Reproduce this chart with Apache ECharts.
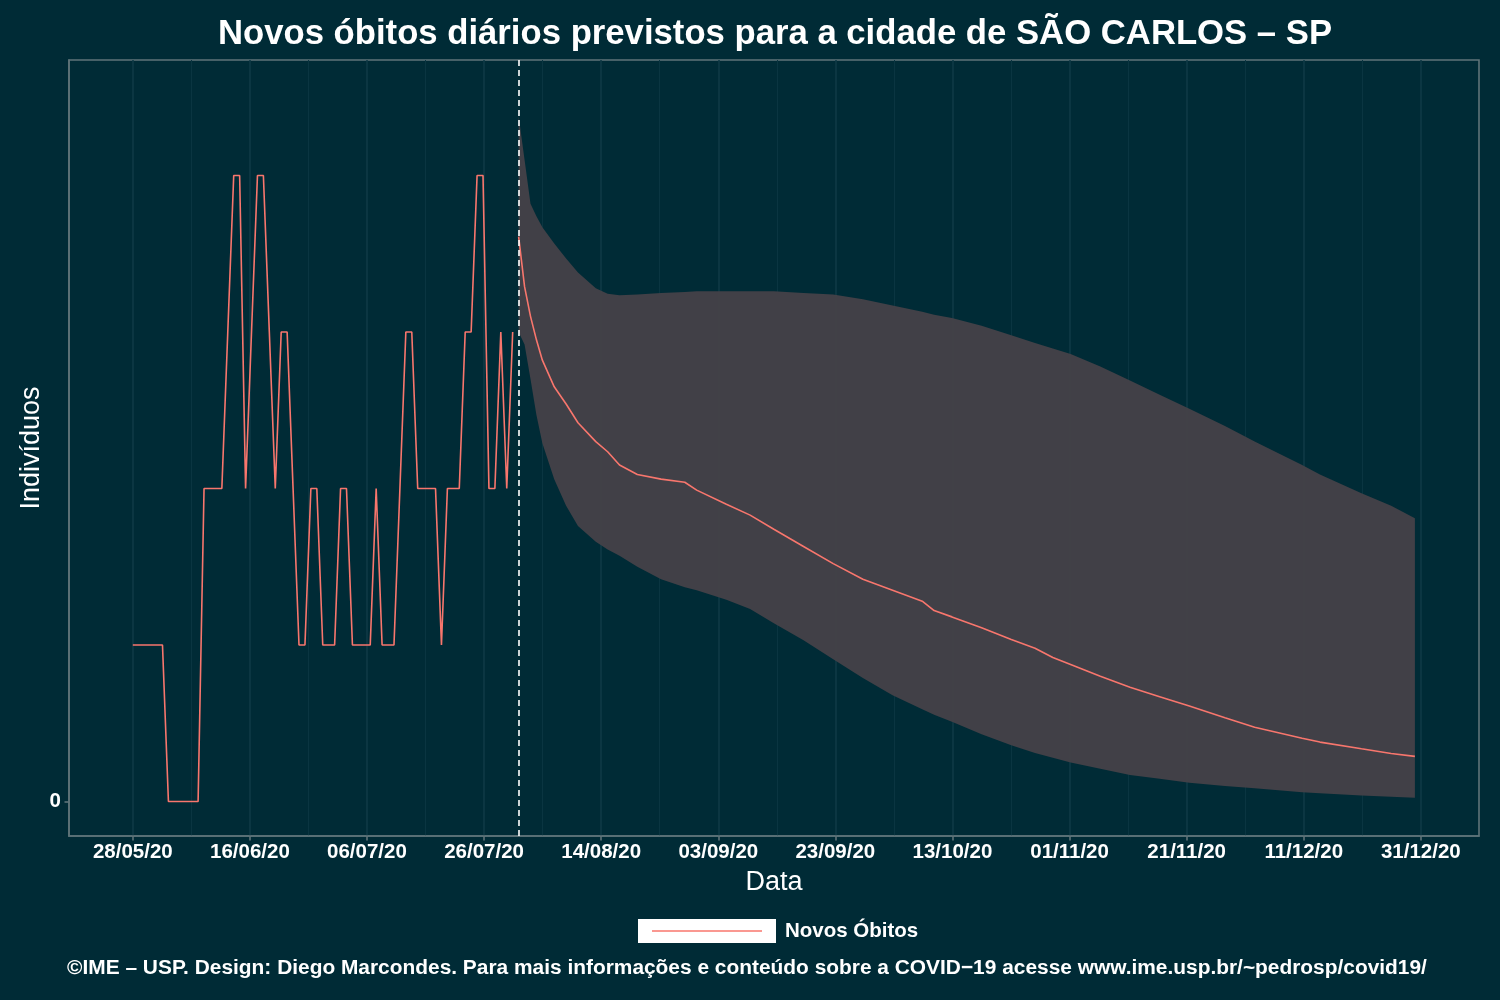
<!DOCTYPE html>
<html>
<head>
<meta charset="utf-8">
<script src="https://cdn.jsdelivr.net/npm/echarts@6/dist/echarts.min.js"></script>
<style>
html,body{margin:0;padding:0;background:#002b36;}
#chart{width:1500px;height:1000px;}
</style>
</head>
<body>
<div id="chart"></div>
<script>
// ---- Data (day index counted from 28/05/20) ----
const observedValues = [
  1,1,1,1,1,1,
  0,0,0,0,0,0,
  2,2,2,2,
  3,
  4,4,
  2,
  3,
  4,4,
  3,
  2,
  3,3,
  2,
  1,1,
  2,2,
  1,1,1,
  2,2,
  1,1,1,1,
  2,
  1,1,1,
  2,
  3,3,
  2,2,2,2,
  1,
  2,2,2,
  3,3,
  4,4,
  2,2,
  3,
  2,
  3
];
const predDays  = [65,66,67,68,69,71,73,75,78,80,82,85,89,93,95,100,104,108,113,118,123,128,133,135,138,143,148,152,155,158,163,168,173,178,184,189,197,200,207,212,216];
const predMean  = [3.61,3.29,3.10,2.95,2.82,2.65,2.54,2.42,2.30,2.235,2.15,2.09,2.06,2.04,1.99,1.90,1.83,1.74,1.63,1.52,1.42,1.35,1.28,1.22,1.18,1.11,1.035,0.98,0.92,0.875,0.80,0.73,0.67,0.61,0.535,0.475,0.405,0.38,0.337,0.307,0.289];
const predLower = [3.00,2.92,2.70,2.47,2.29,2.06,1.89,1.76,1.66,1.61,1.57,1.50,1.42,1.37,1.35,1.29,1.23,1.14,1.03,0.91,0.79,0.68,0.59,0.555,0.51,0.43,0.36,0.31,0.28,0.25,0.21,0.17,0.145,0.12,0.10,0.085,0.06,0.053,0.038,0.03,0.024];
const predUpper = [4.38,4.10,3.82,3.74,3.67,3.565,3.47,3.38,3.28,3.245,3.235,3.24,3.25,3.255,3.26,3.26,3.26,3.26,3.25,3.24,3.21,3.17,3.13,3.11,3.09,3.04,2.98,2.93,2.895,2.86,2.78,2.69,2.60,2.51,2.40,2.30,2.15,2.09,1.97,1.89,1.81];
const forecastStartDay = 65;
const tickDays   = [0,19.73,39.45,59.18,78.91,98.64,118.36,138.09,157.82,177.55,197.27,217];
const tickLabels = ['28/05/20','16/06/20','06/07/20','26/07/20','14/08/20','03/09/20','23/09/20','13/10/20','01/11/20','21/11/20','11/12/20','31/12/20'];
const minorTickDays = [9.86,29.59,49.32,69.05,88.77,108.5,128.23,147.95,167.68,187.41,207.14];
const yTickValues = [0];
const yTickLabels = ['0'];
const legendName = 'Novos Óbitos';

// ---- Styles ----
const BG = '#002b36';
const FRAME = '#5f7479';
const LINE = '#F8766D';
const RIBBON = 'rgba(70,66,72,0.93)';
const FONT = '"Liberation Sans", Arial, Helvetica, sans-serif';
const X_MIN = -10.75, X_MAX = 226.8, Y_MIN = -0.22, Y_MAX = 4.738;

const chart = echarts.init(document.getElementById('chart'), null, {renderer:'canvas'});

const observedData = observedValues.map((v, i) => [i, v]);
const meanData = predDays.map((d, i) => [d, predMean[i]]);
const bandData = predDays.map((d, i) => [d, predLower[i], predUpper[i]]);

function labelFor(list, labels, value) {
  for (let i = 0; i < list.length; i++) {
    if (Math.abs(list[i] - value) < 1e-6) return labels[i];
  }
  return '';
}

const option = {
  backgroundColor: BG,
  animation: false,
  textStyle: { fontFamily: FONT },
  title: [
    {
      text: 'Novos óbitos diários previstos para a cidade de SÃO CARLOS – SP',
      left: 775, top: 17, textAlign: 'center', padding: 0,
      textStyle: { color: '#ffffff', fontSize: 34.7, fontWeight: 'bold', fontFamily: FONT }
    },
    {
      text: '©IME – USP. Design: Diego Marcondes. Para mais informações e conteúdo sobre a COVID−19 acesse www.ime.usp.br/~pedrosp/covid19/',
      left: 747, top: 958, textAlign: 'center', padding: 0,
      textStyle: { color: '#ffffff', fontSize: 20.9, fontWeight: 'bold', fontFamily: FONT }
    }
  ],
  legend: {
    data: [legendName],
    left: 638, top: 919, padding: 0,
    icon: 'rect',
    itemWidth: 138, itemHeight: 24,
    itemStyle: { color: '#ffffff', borderWidth: 0 },
    textStyle: { color: '#ffffff', fontSize: 20.5, fontWeight: 'bold', fontFamily: FONT, padding: [0,0,0,4] },
    selectedMode: false
  },
  graphic: [
    { type: 'line', z: 100, shape: { x1: 652, y1: 931, x2: 762, y2: 931 }, style: { stroke: LINE, lineWidth: 1.6 } }
  ],
  grid: {
    left: 69, top: 60, width: 1410, height: 776,
    show: true, borderColor: FRAME, borderWidth: 1.6, backgroundColor: 'transparent',
    containLabel: false
  },
  xAxis: [
    {
      type: 'value', min: X_MIN, max: X_MAX,
      name: 'Data', nameLocation: 'middle', nameGap: 33, nameMoveOverlap: false,
      nameTextStyle: { color: '#ffffff', fontSize: 27, fontFamily: FONT },
      axisLine: { show: true, onZero: false, lineStyle: { color: FRAME, width: 1.6 } },
      axisTick: { show: true, length: 4.5, customValues: tickDays, lineStyle: { color: FRAME, width: 1.6 } },
      axisLabel: {
        show: true, customValues: tickDays, margin: 6,
        color: '#ffffff', fontSize: 20.5, fontWeight: 'bold', fontFamily: FONT,
        formatter: v => labelFor(tickDays, tickLabels, v)
      },
      splitLine: { show: true, lineStyle: { color: '#0f3a46', width: 1.6 } }
    },
    {
      type: 'value', min: X_MIN, max: X_MAX, position: 'top',
      axisLine: { show: false },
      axisTick: { show: false, customValues: minorTickDays },
      axisLabel: { show: false, customValues: minorTickDays },
      splitLine: { show: true, lineStyle: { color: '#0a3541', width: 1 } }
    }
  ],
  yAxis: {
    type: 'value', min: Y_MIN, max: Y_MAX,
    name: 'Indivíduos', nameLocation: 'middle', nameGap: 24, nameMoveOverlap: false,
    nameTextStyle: { color: '#ffffff', fontSize: 27, fontFamily: FONT },
    axisLine: { show: true, onZero: false, lineStyle: { color: FRAME, width: 1.6 } },
    axisTick: { show: true, length: 4.5, customValues: yTickValues, lineStyle: { color: FRAME, width: 1.6 } },
    axisLabel: {
      show: true, customValues: yTickValues, margin: 8,
      color: '#ffffff', fontSize: 20.5, fontWeight: 'bold', fontFamily: FONT,
      formatter: v => labelFor(yTickValues, yTickLabels, v)
    },
    splitLine: { show: false }
  },
  series: [
    {
      name: 'Intervalo',
      type: 'custom',
      xAxisIndex: 0, yAxisIndex: 0,
      data: bandData,
      encode: { x: 0, y: [1, 2] },
      silent: true,
      z: 1,
      renderItem: function (params, api) {
        if (params.dataIndex !== 0) return null;
        const pts = [];
        for (let i = 0; i < predDays.length; i++) pts.push(api.coord([predDays[i], predUpper[i]]));
        for (let i = predDays.length - 1; i >= 0; i--) pts.push(api.coord([predDays[i], predLower[i]]));
        return { type: 'polygon', shape: { points: pts }, style: { fill: RIBBON, stroke: null } };
      }
    },
    {
      name: legendName,
      type: 'line',
      data: observedData,
      showSymbol: false, symbol: 'none',
      lineStyle: { color: LINE, width: 1.6 },
      itemStyle: { color: LINE },
      z: 3,
      markLine: {
        silent: true, symbol: ['none', 'none'],
        label: { show: false },
        lineStyle: { color: '#ffffff', width: 1.6, type: [6, 4] },
        data: [{ xAxis: forecastStartDay }]
      }
    },
    {
      name: legendName,
      type: 'line',
      data: meanData,
      showSymbol: false, symbol: 'none',
      lineStyle: { color: LINE, width: 1.6 },
      itemStyle: { color: LINE },
      z: 3
    }
  ]
};

chart.setOption(option);
</script>
</body>
</html>
